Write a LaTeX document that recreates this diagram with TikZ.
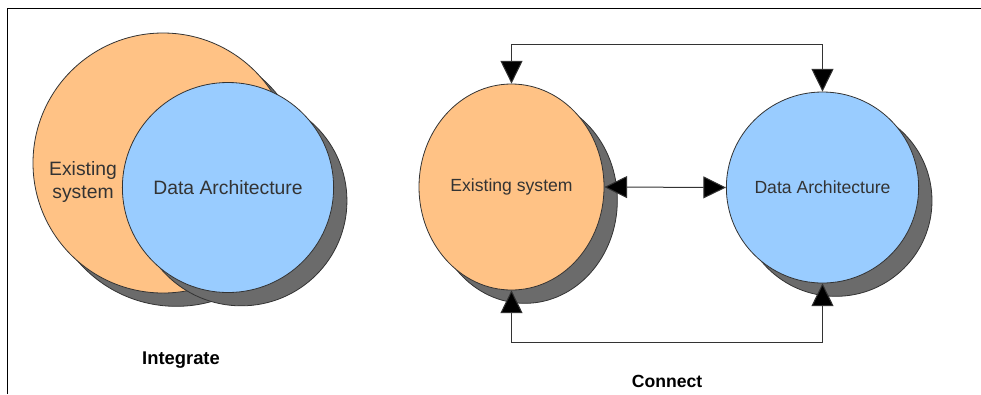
\documentclass[tikz,border=0pt]{standalone}
\usepackage{fontspec}
\setmainfont{Liberation Sans}
\usetikzlibrary{shapes.geometric, arrows.meta, shadows}
\definecolor{peachES}{HTML}{FFC285}
\definecolor{skyDA}{HTML}{99CCFF}
\definecolor{shadowgrey}{HTML}{6B6B6B}
\definecolor{labelgrey}{HTML}{333333}
\tikzset{
	blob/.style={ellipse, inner sep=0pt, draw=black!80, line width=0.6pt, text=labelgrey, drop shadow={shadow xshift=10pt, shadow yshift=-10pt, fill=shadowgrey, draw=black!80, opacity=1}},
	existing/.style={blob, fill=peachES},
	dataarch/.style={blob, fill=skyDA},
	biglabel/.style={font=\fontsize{14.5pt}{17.5pt}\selectfont, text=labelgrey, align=center},
	smalllabel/.style={font=\fontsize{13.2pt}{16pt}\selectfont},
	caption/.style={font=\fontsize{13.8pt}{16pt}\selectfont\bfseries},
	link/.style={draw=black!80, line width=0.75pt, {Triangle[length=17pt, width=16.5pt, fill=black]}-{Triangle[length=17pt, width=16.5pt, fill=black]}}
}
\begin{document}
\begin{tikzpicture}[x=0.75pt, y=-0.75pt]
	\useasboundingbox (0,0) rectangle (981,394);
	% Rahmen
	\draw [line width=1pt] (7.5,394) -- (7.5,8.5) -- (981,8.5);

	% Integrate
	\node [existing, minimum width=195pt, minimum height=195pt] (intES) at (163,163) {};
	\node [biglabel] (intESlbl) at (83,182) {Existing\\system};
	\node [dataarch, biglabel, minimum width=157.5pt, minimum height=157.5pt] (intDA) at (228,187.5) {Data Architecture};
	\node [caption] (intCap) at (181,360) {Integrate};

	% Connect
	\node [existing, smalllabel, minimum width=138.75pt, minimum height=154.5pt] (conES) at (511.5,187) {Existing system};
	\node [dataarch, smalllabel, minimum width=128.25pt, minimum height=143.25pt] (conDA) at (822.5,187.5) {Data Architecture};
	\node [caption, font=\fontsize{13.2pt}{16pt}\selectfont\bfseries] (conCap) at (667,381) {Connect};
	\coordinate (topbar) at (667,44);
	\coordinate (botbar) at (667,342);

	\draw [link] (conES.north) -- (conES.north |- topbar) -- (conDA.north |- topbar) -- (conDA.north);
	\draw [link] (conES.south) -- (conES.south |- botbar) -- (conDA.south |- botbar) -- (conDA.south);
	\draw [link] (conES.east) -- (conDA.west);
\end{tikzpicture}
\end{document}
